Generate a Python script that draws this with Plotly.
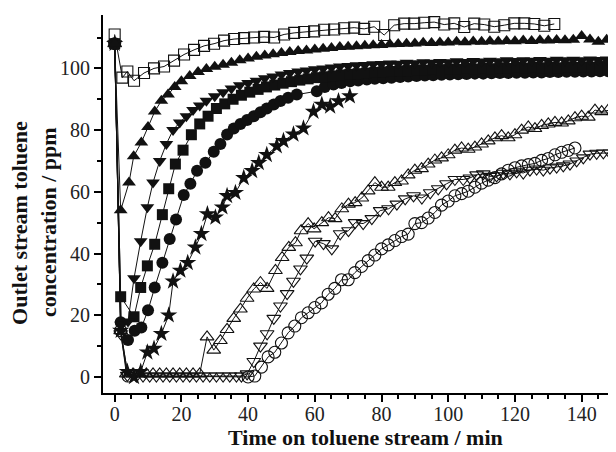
import plotly.graph_objects as go

# ---------------- data ----------------
# open squares
sqo_t = [0, 2.3, 3.8, 5.8, 8.8, 11.8, 14.8, 17.8, 20.8, 23.8, 26.8, 29.8, 32.8, 35.8, 38.8, 41.8,
         44.8, 47.8, 50.8, 53.8, 56.8, 59.8, 62.8, 65.8, 68.8, 71.8, 74.8, 77.8, 80.8, 83.8, 86.8,
         89.8, 92.8, 95.8, 98.8, 101.8, 104.8, 107.8, 110.8, 113.8, 116.8, 119.8, 122.8, 125.8,
         128.8, 131.8]
sqo_v = [111, 97, 99, 96, 98.5, 100, 100.6, 102.5, 104.5, 106, 107.3, 108, 109, 109.5, 109.8, 110,
         110.2, 110, 111, 111.5, 111.8, 112, 112.5, 112.6, 113, 113.2, 112.8, 113.5, 110.8, 114,
         114.5, 114.5, 114.8, 115, 114.2, 114.6, 113.4, 114.5, 114.2, 113.5, 114, 114.6, 114.6,
         114.4, 113.8, 114.4]

# filled up-triangles
tuf_t = [0, 1.8, 4.3, 5.7, 8, 10, 12, 14, 16, 18, 20, 22.5, 25, 27.5, 30, 32.5, 35, 37.5, 40,
         42.5, 45, 47.5, 50, 52.5, 55, 57.5, 60, 62.5, 65, 67.5, 70, 72.5, 75, 77.5, 80, 82.5, 85,
         87.5, 90, 92.5, 95, 97.5, 100, 102.5, 105, 107.5, 110, 112.5, 115, 117.5, 120, 122.5, 125,
         127.5, 130, 132.5, 135, 137.5, 140, 142.5, 145, 147.5]
tuf_v = [108, 54, 63, 71.5, 76, 81, 86, 89.5, 91.5, 94, 95.8, 97.5, 98.8, 99.8, 100.5, 101.2, 101.8,
         102.6, 103.2, 103.8, 104.2, 104.6, 105, 105.3, 105.6, 105.8, 106.1, 106.4, 106.6, 106.9,
         107, 107.2, 107.3, 107.5, 107.6, 107.8, 107.9, 108, 108.1, 108.3, 108.2, 108.4, 108.4,
         108.6, 108.5, 108.7, 108.6, 108.8, 108.7, 108.9, 108.8, 109, 108.9, 109.1, 109, 109.2,
         109.1, 109.3, 110.5, 109.4, 108.6, 109.3]

# filled down-triangles
tdf_t = [0, 2, 4, 5.8, 7.8, 9.8, 11.5, 13.5, 15.5, 17.5, 19.5, 21.5, 23.5, 25.5, 27.5, 30, 32.5,
         35, 37.5, 40, 42.5, 45, 47.5, 50, 52.5, 55, 57.5, 60, 62.5, 65, 67.5, 70, 72.5, 75, 77.5,
         80, 82.5, 85, 87.5, 90, 92.5, 95, 97.5, 100, 102.5, 105, 107.5, 110, 112.5, 115, 117.5,
         120, 122.5, 125, 127.5, 130, 132.5, 135, 137.5, 140, 142.5, 145, 147.5, 150]
tdf_v = [108, 17, 18, 32, 44, 55, 63, 70, 75.5, 80, 82.5, 84.5, 86.5, 88, 89.5,
         91, 92.3, 93.5, 94.5, 95.3, 96, 96.8, 97.4, 98, 98.5,
         99, 99.3, 99.7, 100, 100.3, 100.6, 100.8, 101, 101.1, 101.3,
         101.4, 101.6, 101.5, 101.8, 101.7, 102, 101.8, 102.1, 102, 102.3,
         102.1, 102.4, 102.2, 102.5, 102.3, 102.6, 102.4, 102.6, 102.5, 102.7,
         102.5, 102.8, 102.6, 102.8, 102.6, 102.9, 102.7, 102.9, 102.8]

# filled squares
sqf_t = [0, 1.8, 5.8, 7.8, 9.8, 12, 14.3, 16.2, 18.2, 20.5, 23, 25.5, 28, 30.5, 33, 35.5, 38,
         40.5, 43, 45.5, 48, 50.5, 53, 55.5, 58, 60.5, 63, 65.5, 68, 70.5, 73, 75.5, 78, 80.5, 83,
         85.5, 88, 90.5, 93, 95.5, 98, 100.5, 103, 105.5, 108, 110.5, 113, 115.5, 118, 120.5, 123,
         125.5, 128, 130.5, 133, 135.5, 138, 140.5, 143, 145.5, 148, 150.5]
sqf_v = [108, 26, 19.5, 29, 36, 43, 52.6, 61, 69,
         73.5, 78.5, 82, 84.5, 87, 88.5, 90, 91.3, 92.3, 93.2,
         94, 94.6, 95.2, 95.7, 96.2, 96.6, 97, 97.3, 97.6, 97.9,
         98.1, 98.3, 98.5, 98.7, 98.9, 99, 99.2, 99.3, 99.5, 99.4,
         99.7, 99.6, 99.8, 99.7, 100, 99.8, 100.1, 99.9, 100.2, 100,
         100.3, 100.1, 100.3, 100.2, 100.4, 100.2, 100.5, 100.3, 100.5, 100.4,
         100.6, 100.4, 100.5]

# filled circles
cf_t = [0, 1.8, 4, 6, 8, 10, 12, 14.3, 16.5, 18.4, 20.7, 22.7, 24.7, 27.2, 29.7, 31.7, 33.7, 35.7,
        37.7, 39.7, 41.7, 43.7, 45.6, 47.7, 49.7, 52, 54.6, 60.6, 63, 65.6, 68, 70.6, 73, 75.6, 78,
        80.5, 83, 85.6, 88, 90.5, 93, 95.5, 98, 100.5, 103, 105.5, 108, 110.5, 113, 115.5, 118,
        120.5, 123, 125.5, 128, 130.5, 133, 135.5, 138, 140.5, 143, 145.5, 148]
cf_v = [108, 17.7, 12, 15, 16, 21.6, 29, 37, 44.7, 51,
        59, 62.6, 66.8, 69.4, 73, 75.5, 78.6, 80.5, 82, 83.3,
        84.5, 85.8, 87, 88.3, 89.4, 90.5, 91.5, 92.6, 94, 94.8,
        95.3, 95.8, 96.1, 96.4, 96.6, 96.8, 97, 97.2, 97.4, 97.5,
        97.7, 97.8, 97.9, 98, 98.1, 98.2, 98.3, 98.3, 98.4, 98.5,
        98.5, 98.6, 98.6, 98.7, 98.7, 98.8, 98.8, 98.9, 98.9, 99,
        99, 99.1, 99.1]

# stars
st_t = [0, 1.8, 3.8, 5.8, 7.8, 9.8, 11.8, 14, 16.2, 17.5, 19.7, 21.9, 24.2, 26, 27.8, 30.2, 32.3,
        33.7, 36.2, 38.7, 41.2, 43.2, 45.6, 48.6, 50.6, 53.6, 56.6, 59.6, 62.1, 64.6, 67.1, 70.5]
st_v = [108, 15, 1.7, 0, 1.7, 8, 9.2, 14, 20, 31, 34.5, 37, 42, 46.4, 52.8, 51.7, 55, 58.7, 59.7,
        64.5, 66.8, 69.4, 72, 74.8, 76.5, 78.6, 80.6, 86, 88.3, 87.7, 89.4, 91]

# open up-triangles
tuo_t = [0, 1.8, 3.5, 5.5, 7.5, 9.5, 11.5, 13.5, 15.5, 17.5, 19.5, 21.5, 23.5, 25.5, 27.7, 29.7,
         31.7, 33.7, 35.7, 37.7, 39.7, 41.7, 43.7, 45.7, 48.2, 50.2, 52.2, 54.2, 55.9, 58, 59.8,
         62.1, 64.1, 66.1, 68.1, 70.1, 72.1, 74.1, 76, 78, 80, 82, 84, 86, 88, 90, 92, 94, 96, 98,
         100, 102, 104, 106, 108, 110, 112, 114, 116, 118, 120, 122, 124, 126, 128, 130, 132, 134,
         136, 138, 140, 142, 144, 146, 148, 150]
tuo_v = [108, 15, 1, 1, 1, 1, 1, 1, 1, 1, 1, 1, 1, 1, 13, 8.7, 11.8, 15.4, 19, 22,
         25.5, 28.5, 30.6, 28.7, 34.5, 38.7, 42, 43.5, 47.4, 49.7,
         48, 50, 51.6, 51.3, 54.5, 56, 56.5, 58, 60.3, 63,
         61.5, 61.5, 63, 63.5, 65.5, 67, 67.5, 69, 70.3, 71,
         72, 73.5, 74.2, 73.8, 74.5, 75.5, 76.5, 77.5, 78.2, 77.5,
         78.5, 80, 81, 80.5, 81.5, 82, 82.5, 82.3, 83, 84,
         84.5, 84.2, 86.5, 86, 86.5, 86.8]

# open down-triangles
tdo_t = [0, 1.8, 3.8, 6.5, 8.5, 10.5, 12.5, 14.5, 16.5, 18.5, 20.5, 22.5, 24.5, 26.5, 28.5, 30.5,
         32.5, 34.5, 36.5, 38, 39.7, 41.7, 43.7, 45.7, 47.7, 49.7, 51.7, 53.6, 55.7, 57.6, 60.1,
         62.6, 65.1, 67.6, 70.1, 72.1, 74.5, 77.1, 79.6, 82.1, 84.6, 87.1, 89.6, 92.1, 94.6, 97,
         99.5, 102, 104.5, 106.5, 108.5, 110.5, 112.5, 114.5, 116.5, 118.5, 120.5, 122.5, 124.5,
         126.5, 128.5, 130.5, 132.5, 134.5, 136.5, 138.5, 140.5, 142.5, 144.5, 146.5, 148.5, 150.5]
tdo_v = [108, 14, 0.5, 0.3, 0.3, 0.3, 0.3, 0.3, 0.3, 0.3, 0.3, 0.3, 0.3, 0.3, 0.3, 0.3, 0.3, 0.3,
         0.3, 0.3,
         1, 5, 10, 14, 19, 23, 27, 31, 35, 38.5,
         44, 43.2, 41.5, 46.4, 47.4, 50, 49.7, 51.3, 53.9, 54.5,
         56, 57.7, 58.7, 58, 59.7, 61, 62.6, 64, 64,
         64.5, 65.5, 65.8, 65, 65.2, 66, 65.8, 66.5, 66.1, 67,
         67.4, 67, 67.7, 68, 68.4, 69, 70, 71, 72.2, 72.5,
         72.6, 72.6, 73]

# open circles
co_t = [0, 1.8, 4, 40, 42, 44, 46, 48, 50, 52, 54, 56, 58, 60, 62, 64, 66, 68, 70, 72, 74, 76, 78,
        80, 82, 84, 86, 88, 90, 92, 94, 96, 98, 100, 102, 104, 106, 108, 110, 112, 114, 116, 118,
        120, 122, 124, 126, 128, 130, 132, 134, 136, 138]
co_v = [108, 15, 0.3, 0,
        0.3, 3.2, 6.5, 8, 11, 14.3, 16.5, 19.2, 20.8, 22.5,
        24, 26.8, 28.7, 31.5, 31.5, 33.8, 35.8, 37.7, 39.5, 41.5,
        42.8, 44.2, 45.5, 46.3, 49.7, 50, 51.5, 53.3, 55.7, 57,
        58.7, 59.4, 60.2, 61.5, 62.8, 63.8, 64.6, 65.8, 67, 67.8,
        68.4, 68.8, 69.2, 70.2, 70.8, 72, 72.8, 73.4, 74.2]

x_ticks = [0, 20, 40, 60, 80, 100, 120, 140]
y_ticks = [0, 20, 40, 60, 80, 100]

# ---------------- figure ----------------
INK = "#111111"
series = [
    (co_t, co_v, "circle-open", 12),
    (tdo_t, tdo_v, "triangle-down-open", 12),
    (tuo_t, tuo_v, "triangle-up-open", 12),
    (sqo_t, sqo_v, "square-open", 11),
    (st_t, st_v, "star", 13),
    (cf_t, cf_v, "circle", 12),
    (sqf_t, sqf_v, "square", 11),
    (tdf_t, tdf_v, "triangle-down", 12),
    (tuf_t, tuf_v, "triangle-up", 12),
]

fig = go.Figure()
for t, v, sym, sz in series:
    is_open = sym.endswith("open")
    fig.add_trace(go.Scatter(
        x=t, y=v, mode="lines+markers",
        line=dict(color=INK, width=1),
        marker=dict(symbol=sym, size=sz, color=INK,
                    line=dict(color=INK, width=1.1 if is_open else 0)),
        showlegend=False, hoverinfo="skip"))

# the page body has an 8px default margin, so the figure is sized to fit the window
axis_font = dict(family="Liberation Serif", size=20, color="#222222")
fig.update_layout(
    width=608, height=444,
    margin=dict(l=95, r=0, t=7, b=59),
    paper_bgcolor="white", plot_bgcolor="white",
    xaxis=dict(range=[-3.5, 150.3], tickvals=x_ticks, ticks="outside", ticklen=7,
               tickwidth=2, tickcolor="black", showline=True, linewidth=2, linecolor="black",
               showgrid=False, zeroline=False, tickfont=axis_font, ticklabelstandoff=-5,
               minor=dict(dtick=5, tick0=0, ticks="outside", ticklen=4, tickwidth=2,
                          tickcolor="black", showgrid=False)),
    yaxis=dict(range=[-5.2, 117.3], tickvals=y_ticks, ticks="outside", ticklen=7,
               tickwidth=2, tickcolor="black", showline=True, linewidth=2, linecolor="black",
               showgrid=False, zeroline=False, tickfont=axis_font,
               minor=dict(dtick=10, tick0=0, ticks="outside", ticklen=4, tickwidth=2,
                          tickcolor="black", showgrid=False)),
)

title_font = dict(family="Liberation Serif", size=22, color="#111111")
fig.add_annotation(text="<b>Time on toluene stream / min</b>", xref="paper", yref="paper",
                   x=0.512, y=0, yshift=-44, xanchor="center", yanchor="middle",
                   showarrow=False, font=title_font)
fig.add_annotation(text="<b>Outlet stream toluene</b>", xref="paper", yref="paper",
                   x=0, y=0.45, xshift=-83, xanchor="center", yanchor="middle",
                   textangle=-90, showarrow=False, font=title_font)
fig.add_annotation(text="<b>concentration / ppm</b>", xref="paper", yref="paper",
                   x=0, y=0.45, xshift=-54, xanchor="center", yanchor="middle",
                   textangle=-90, showarrow=False, font=title_font)

fig.write_html("out.html")
